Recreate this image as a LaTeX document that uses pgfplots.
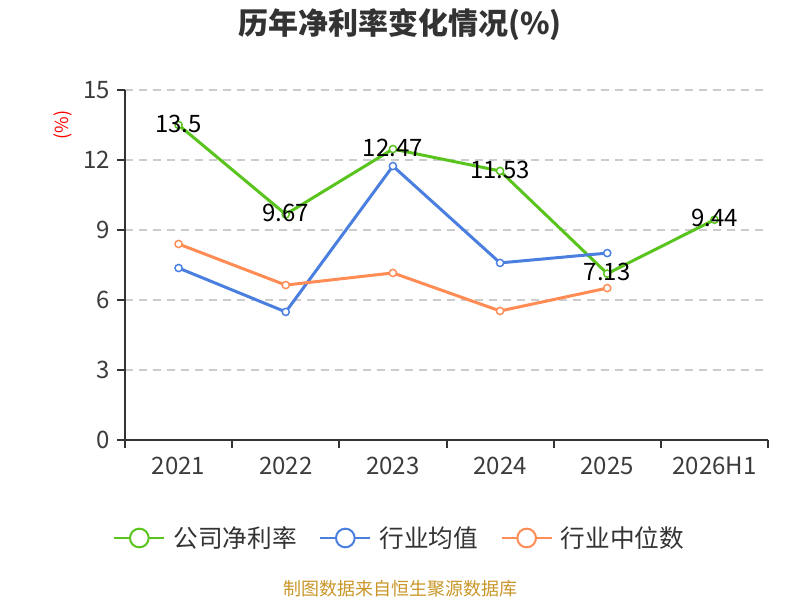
\documentclass[border=0pt]{standalone}
\usepackage{fontspec}
\setmainfont{Noto Sans CJK SC}
\usepackage{pgfplots}
\pgfplotsset{compat=1.18}
\definecolor{cgreen}{RGB}{90,196,30}
\definecolor{cblue}{RGB}{74,127,224}
\definecolor{corange}{RGB}{255,140,85}
\definecolor{axisgray}{RGB}{51,51,51}
\definecolor{tickgray}{RGB}{60,60,60}
\definecolor{gridgray}{RGB}{204,204,204}
\definecolor{srccolor}{RGB}{200,150,40}
\begin{document}
\begin{tikzpicture}
\path[use as bounding box] (0,0) rectangle (600pt,450pt);
\begin{axis}[
  at={(93.75pt,120pt)}, anchor=south west,
  scale only axis, width=482.25pt, height=262.5pt,
  xmin=-0.5, xmax=5.5, ymin=0, ymax=15,
  axis x line*=bottom, axis y line*=left,
  axis line style={line width=1.5pt, color=axisgray},
  ytick={0,3,6,9,12,15},
  xtick={-0.5,0.5,1.5,2.5,3.5,4.5,5.5},
  xticklabels={2021,2022,2023,2024,2025,2026H1,},
  xticklabel style={xshift=40.19pt, yshift=-3pt},
  yticklabel style={xshift=-1.5pt},
  tick align=outside, major tick length=6pt,
  tick style={line width=1.5pt, color=axisgray},
  tick label style={font=\fontsize{18}{20}\selectfont, text=tickgray},
  /pgf/number format/assume math mode=true,
  ymajorgrids,
  grid style={line width=1.1pt, color=gridgray, dash pattern=on 6pt off 4.5pt},
  clip=false,
  title={历年净利率变化情况(\%)},
  title style={at={(axis description cs:0.4277,1.165)}, anchor=center, font=\bfseries\fontsize{22.5}{26}\selectfont, text=axisgray},
  ylabel={(\%)},
  ylabel style={at={(axis description cs:-0.096,0.9)}, anchor=center, font=\fontsize{13.5}{15}\selectfont, text=red},
  legend columns=3,
  legend style={at={(axis description cs:0.4277,-0.28)}, anchor=center, draw=none, fill=none,
    font=\fontsize{18.5}{20}\selectfont, text=axisgray,
    /tikz/every odd column/.append style={column sep=4pt},
    /tikz/every even column/.append style={column sep=15pt}},
  legend cell align=left,
]
\addplot[color=cgreen, line width=2.25pt, mark=*, mark size=2.7pt, mark options={fill=white, line width=1.1pt},
  nodes near coords, point meta=explicit symbolic,
  nodes near coords style={anchor=center, font=\fontsize{18}{20}\selectfont, text=black, yshift=1pt},
  legend image code/.code={\draw[line width=1.5pt] (0pt,0pt) -- (37.5pt,0pt); \draw[line width=1.5pt, fill=white] (18.75pt,0pt) circle (7pt);}]
  coordinates {(0,13.5) [13.5] (1,9.67) [9.67] (2,12.47) [12.47] (3,11.53) [11.53] (4,7.13) [7.13] (5,9.44) [9.44]};
\addlegendentry{公司净利率}
\addplot[color=cblue, line width=2.25pt, mark=*, mark size=2.7pt, mark options={fill=white, line width=1.1pt},
  legend image code/.code={\draw[line width=1.5pt] (0pt,0pt) -- (37.5pt,0pt); \draw[line width=1.5pt, fill=white] (18.75pt,0pt) circle (7pt);}]
  coordinates {(0,7.37) (1,5.49) (2,11.74) (3,7.59) (4,8.01)};
\addlegendentry{行业均值}
\addplot[color=corange, line width=2.25pt, mark=*, mark size=2.7pt, mark options={fill=white, line width=1.1pt},
  legend image code/.code={\draw[line width=1.5pt] (0pt,0pt) -- (37.5pt,0pt); \draw[line width=1.5pt, fill=white] (18.75pt,0pt) circle (7pt);}]
  coordinates {(0,8.40) (1,6.64) (2,7.16) (3,5.53) (4,6.51)};
\addlegendentry{行业中位数}
\node[font=\fontsize{13.5}{15}\selectfont, text=srccolor] at (axis description cs:0.4277,-0.4257) {制图数据来自恒生聚源数据库};
\end{axis}
\end{tikzpicture}
\end{document}
